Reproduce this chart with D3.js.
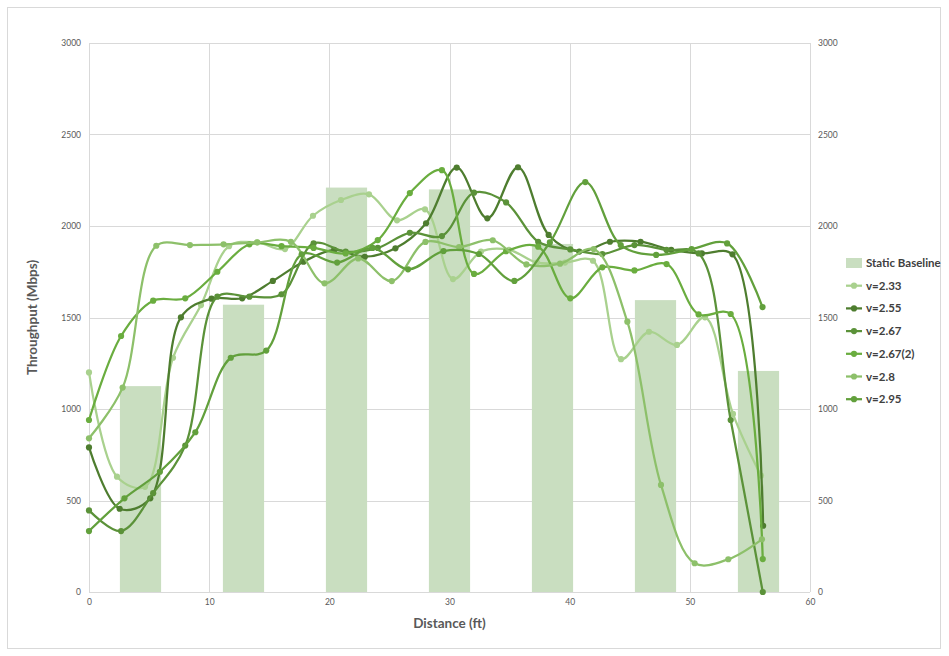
<!DOCTYPE html>
<html>
<head>
<meta charset="utf-8">
<script src="https://cdn.jsdelivr.net/npm/d3@7"></script>
<style>
  html, body { margin: 0; padding: 0; background: #fff; }
  svg { display: block; }
  text { font-family: Lato, "Open Sans", "Liberation Sans", sans-serif; }
</style>
</head>
<body>
<svg id="chart" width="949" height="656"></svg>
<script>
// Static baseline bars (one per measurement station)
const barCategories = ["S1", "S2", "S3", "S4", "S5", "S6", "S7"];
const baselineValues = [1125, 1570, 2210, 2200, 1902, 1595, 1208];

// Walking runs: distance (ft) and throughput (Mbps)
const x233 = [0, 2.33, 4.66, 6.99, 9.32, 11.65, 13.98, 16.31, 18.64, 20.97, 23.3, 25.63, 27.96, 30.29, 32.62, 34.95, 37.28, 39.61, 41.94, 44.27, 46.6, 48.93, 51.26, 53.59, 55.92];
const y233 = [1200, 630, 575, 1280, 1568, 1890, 1911, 1874, 2056, 2142, 2173, 2031, 2091, 1710, 1860, 1870, 1800, 1800, 1810, 1272, 1422, 1350, 1501, 973, 636];

const x255 = [0, 2.55, 5.1, 7.65, 10.2, 12.75, 15.3, 17.85, 20.4, 22.95, 25.5, 28.05, 30.6, 33.15, 35.7, 38.25, 40.8, 43.35, 45.9, 48.45, 51, 53.55, 56.1];
const y255 = [790, 455, 512, 1501, 1603, 1605, 1700, 1805, 1869, 1832, 1878, 2015, 2319, 2042, 2321, 1951, 1860, 1914, 1914, 1870, 1850, 1845, 362];

const x267 = [0, 2.67, 5.34, 8.01, 10.68, 13.35, 16.02, 18.69, 21.36, 24.03, 26.7, 29.37, 32.04, 34.71, 37.38, 40.05, 42.72, 45.39, 48.06, 50.73, 53.4, 56.07];
const y267 = [446, 333, 540, 800, 1614, 1614, 1627, 1905, 1860, 1880, 1963, 1945, 2182, 2129, 1914, 1872, 1847, 1896, 1869, 1850, 940, 0];

const x267b = [0, 2.67, 5.34, 8.01, 10.68, 13.35, 16.02, 18.69, 21.36, 24.03, 26.7, 29.37, 32.04, 34.71, 37.38, 40.05, 42.72, 45.39, 48.06, 50.73, 53.4, 56.07];
const y267b = [940, 1399, 1592, 1605, 1750, 1900, 1890, 1880, 1850, 1923, 2180, 2305, 1738, 1862, 1887, 1605, 1774, 1757, 1792, 1517, 1519, 180];

const x280 = [0, 2.8, 5.6, 8.4, 11.2, 14, 16.8, 19.6, 22.4, 25.2, 28, 30.8, 33.6, 36.4, 39.2, 42, 44.8, 47.6, 50.4, 53.2, 56];
const y280 = [840, 1117, 1892, 1896, 1900, 1911, 1914, 1687, 1823, 1699, 1913, 1885, 1922, 1790, 1794, 1874, 1477, 585, 157, 179, 288];

const x295 = [0, 2.95, 5.9, 8.85, 11.8, 14.75, 17.7, 20.65, 23.6, 26.55, 29.5, 32.45, 35.4, 38.35, 41.3, 44.25, 47.2, 50.15, 53.1, 56.05];
const y295 = [333, 512, 657, 873, 1280, 1319, 1845, 1800, 1880, 1763, 1863, 1847, 1700, 1910, 2240, 1896, 1842, 1874, 1905, 1557];

const seriesNames = ["v=2.33", "v=2.55", "v=2.67", "v=2.67(2)", "v=2.8", "v=2.95"];
const seriesColors = ["#a9d18e", "#4e7d2f", "#5b9239", "#6aad3f", "#8dc06a", "#62a03c"];
const xTicks = [0, 10, 20, 30, 40, 50, 60];
const yTicks = [0, 500, 1000, 1500, 2000, 2500, 3000];

const series = [
  { name: seriesNames[0], color: seriesColors[0], xs: x233, ys: y233 },
  { name: seriesNames[1], color: seriesColors[1], xs: x255, ys: y255 },
  { name: seriesNames[2], color: seriesColors[2], xs: x267, ys: y267 },
  { name: seriesNames[3], color: seriesColors[3], xs: x267b, ys: y267b },
  { name: seriesNames[4], color: seriesColors[4], xs: x280, ys: y280 },
  { name: seriesNames[5], color: seriesColors[5], xs: x295, ys: y295 }
];

const svg = d3.select("#chart");
const plot = { left: 89, right: 810, top: 43, bottom: 592 };
const gridColor = "#d9d9d9";
const textColor = "#595959";
const legendColor = "#404040";
const barColor = "#c9dec0";

// chart frame
svg.append("rect")
  .attr("x", 7.5).attr("y", 7.5).attr("width", 933).attr("height", 641)
  .attr("fill", "#fff").attr("stroke", gridColor).attr("stroke-width", 1);

const x = d3.scaleLinear().domain([0, 60]).range([plot.left, plot.right]);
const y = d3.scaleLinear().domain([0, 3000]).range([plot.bottom, plot.top]);
const yRight = d3.scaleLinear().domain([0, 3000]).range([plot.bottom, plot.top]);
const xBand = d3.scaleBand().domain(barCategories).range([plot.left, plot.right])
  .paddingInner(0.6).paddingOuter(0.3);

// gridlines
const grid = svg.append("g");
grid.selectAll("line.h").data(yTicks).join("line")
  .attr("x1", plot.left).attr("x2", plot.right)
  .attr("y1", d => Math.round(y(d)) + 0.5).attr("y2", d => Math.round(y(d)) + 0.5)
  .attr("stroke", gridColor).attr("stroke-width", 1);
grid.selectAll("line.v").data(xTicks).join("line")
  .attr("y1", plot.top).attr("y2", plot.bottom)
  .attr("x1", d => Math.round(x(d)) + 0.5).attr("x2", d => Math.round(x(d)) + 0.5)
  .attr("stroke", gridColor).attr("stroke-width", 1);

// static baseline bars
svg.append("g").selectAll("rect").data(baselineValues).join("rect")
  .attr("x", (d, i) => xBand(barCategories[i]))
  .attr("width", xBand.bandwidth())
  .attr("y", d => yRight(d))
  .attr("height", d => plot.bottom - yRight(d))
  .attr("fill", barColor);

// axes (labels only; gridlines serve as axis lines)
function styleAxis(g) {
  g.select(".domain").remove();
  g.selectAll(".tick line").remove();
  g.selectAll("text").attr("fill", textColor).attr("font-size", 8.5)
    .style("font-family", "Lato, 'Open Sans', sans-serif");
}
const fmt = d3.format("d");
svg.append("g").attr("transform", `translate(${plot.left - 8},0)`)
  .call(d3.axisLeft(y).tickValues(yTicks).tickFormat(fmt).tickSize(0).tickPadding(0))
  .call(styleAxis);
svg.append("g").attr("transform", `translate(${plot.right + 8},0)`)
  .call(d3.axisRight(yRight).tickValues(yTicks).tickFormat(fmt).tickSize(0).tickPadding(0))
  .call(styleAxis);
svg.append("g").attr("transform", `translate(0,${plot.bottom + 7})`)
  .call(d3.axisBottom(x).tickValues(xTicks).tickFormat(fmt).tickSize(0).tickPadding(0))
  .call(styleAxis);

// axis titles
svg.append("text")
  .attr("transform", `translate(37,${(plot.top + plot.bottom) / 2}) rotate(-90)`)
  .attr("text-anchor", "middle").attr("fill", textColor)
  .attr("font-size", 13.5).attr("font-weight", "bold")
  .text("Throughput (Mbps)");
svg.append("text")
  .attr("x", (plot.left + plot.right) / 2).attr("y", 628)
  .attr("text-anchor", "middle").attr("fill", textColor)
  .attr("font-size", 13.5).attr("font-weight", "bold")
  .text("Distance (ft)");

// smoothed run lines with markers
const line = d3.line()
  .x(d => x(d[0])).y(d => y(d[1]))
  .curve(d3.curveCatmullRom.alpha(0.5));

const runs = svg.append("g");
series.forEach(s => {
  const pts = s.xs.map((v, i) => [v, s.ys[i]]);
  const g = runs.append("g");
  g.append("path").attr("d", line(pts))
    .attr("fill", "none").attr("stroke", s.color)
    .attr("stroke-width", 2.25).attr("stroke-linejoin", "round");
  g.selectAll("circle").data(pts).join("circle")
    .attr("cx", d => x(d[0])).attr("cy", d => y(d[1])).attr("r", 3.1)
    .attr("fill", s.color);
});

// legend
const legend = svg.append("g").attr("transform", "translate(846,263)");
legend.append("rect").attr("x", 0).attr("y", -5).attr("width", 16).attr("height", 10)
  .attr("fill", barColor);
legend.append("text").attr("x", 20).attr("y", 4)
  .attr("fill", legendColor).attr("font-size", 11.5).attr("font-weight", "bold")
  .text("Static Baseline");
series.forEach((s, i) => {
  const gy = 22.7 * (i + 1);
  const g = legend.append("g").attr("transform", `translate(0,${gy})`);
  g.append("line").attr("x1", 0).attr("x2", 16).attr("y1", 0).attr("y2", 0)
    .attr("stroke", s.color).attr("stroke-width", 2.25);
  g.append("circle").attr("cx", 8).attr("cy", 0).attr("r", 3.1).attr("fill", s.color);
  g.append("text").attr("x", 20).attr("y", 4)
    .attr("fill", legendColor).attr("font-size", 11.5).attr("font-weight", "bold")
    .text(s.name);
});
</script>
</body>
</html>
